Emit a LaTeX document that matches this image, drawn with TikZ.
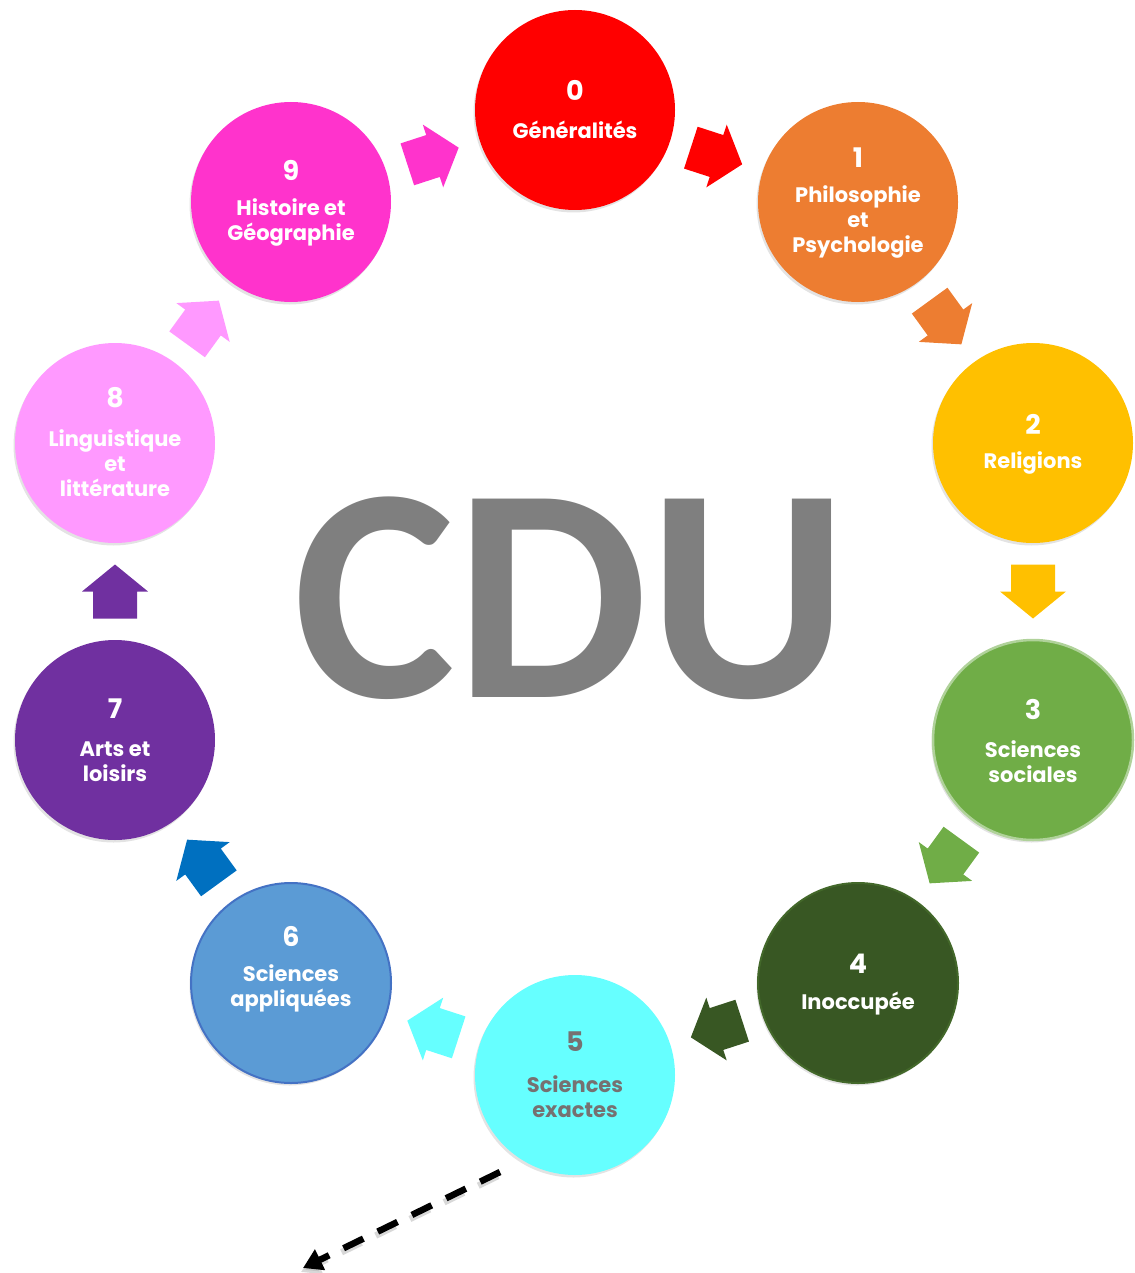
\documentclass[tikz,border=0pt]{standalone}
\usepackage{fontspec}
\setmainfont{Poppins}
\newfontfamily\cdufont{Carlito}
\usetikzlibrary{calc,shadows,arrows.meta}
\definecolor{c0}{HTML}{FF0000}
\definecolor{c1}{HTML}{ED7D31}
\definecolor{c2}{HTML}{FFC000}
\definecolor{c3}{HTML}{70AD47}
\definecolor{c4}{HTML}{385723}
\definecolor{c5}{HTML}{66FFFF}
\definecolor{c6}{HTML}{5B9BD5}
\definecolor{c7}{HTML}{7030A0}
\definecolor{c8}{HTML}{FF99FF}
\definecolor{c9}{HTML}{FF33CC}
\definecolor{a6}{HTML}{0070C0}
\definecolor{b6}{HTML}{4472C4}
\definecolor{cdugray}{HTML}{7F7F7F}
\definecolor{txt5}{HTML}{767171}
\tikzset{
  circ/.style={circle, minimum size=200pt, inner sep=0pt, draw=none,
    drop shadow={shadow xshift=-1.5pt, shadow yshift=-2.5pt, opacity=0.22}},
  num/.style={text=white, font=\bfseries\fontsize{27}{27}\selectfont, inner sep=0pt},
  lab/.style={text=white, font=\bfseries\fontsize{21}{25}\selectfont, align=center, inner sep=0pt},
  barrow/.pic={\path[pic actions] (-27,-22) -- (0,-22) -- (0,-33) -- (27,0) -- (0,33) -- (0,22) -- (-27,22) -- cycle;},
  ashadow/.style={drop shadow={shadow xshift=-1.5pt, shadow yshift=-2pt, opacity=0.2}},
  dasharr/.style={line width=6.5pt, dash pattern=on 22pt off 16pt,
    -{Triangle[length=19pt,width=22pt]}}
}
\begin{document}
\begin{tikzpicture}[x=1pt,y=-1pt]
\useasboundingbox (0,0) rectangle (1134,1273);
% circles
\node[circ, fill=c0] (n0) at (575,110) {};
\node[circ, fill=c1] (n1) at (858,202) {};
\node[circ, fill=c2] (n2) at (1033,443) {};
\node[circ, fill=c3, draw=c3!55!white, line width=2.5pt] (n3) at (1033,740) {};
\node[circ, fill=c4, draw=c4!80!c3, line width=2pt] (n4) at (858,983) {};
\node[circ, fill=c5] (n5) at (575,1075) {};
\node[circ, fill=c6, draw=b6, line width=2pt] (n6) at (291,983) {};
\node[circ, fill=c7] (n7) at (115,740) {};
\node[circ, fill=c8] (n8) at (115,443) {};
\node[circ, fill=c9] (n9) at (291,202) {};
% texts
\node[num] (t0n) at (575,90) {0};
\node[lab] (t0l) at (575,130) {Généralités};
\node[num] (t1n) at (858,158) {1};
\node[lab] (t1l) at (858,222) {Philosophie\\et\\Psychologie};
\node[num] (t2n) at (1033,424) {2};
\node[lab] (t2l) at (1033,463) {Religions};
\node[num] (t3n) at (1033,709) {3};
\node[lab] (t3l) at (1033,762) {Sciences\\sociales};
\node[num] (t4n) at (858,964) {4};
\node[lab] (t4l) at (858,1004) {Inoccupée};
\node[num, text=txt5] (t5n) at (575,1042) {5};
\node[lab, text=txt5] (t5l) at (575,1097) {Sciences\\exactes};
\node[num] (t6n) at (291,936) {6};
\node[lab] (t6l) at (291,988) {Sciences\\appliquées};
\node[num] (t7n) at (115,709) {7};
\node[lab] (t7l) at (115,762) {Arts et\\loisirs};
\node[num] (t8n) at (115,398) {8};
\node[lab] (t8l) at (115,463) {Linguistique\\et\\littérature};
\node[num] (t9n) at (291,170) {9};
\node[lab] (t9l) at (291,222) {Histoire et\\Géographie};
% block arrows
\pic[rotate=-18, fill=c0, ashadow] at ($(n0)!0.5!(n1)$) {barrow};
\pic[rotate=-54, fill=c1, ashadow] at ($(n1)!0.5!(n2)$) {barrow};
\pic[rotate=-90, fill=c2, ashadow] at ($(n2)!0.5!(n3)$) {barrow};
\pic[rotate=-126, fill=c3, ashadow] at ($(n3)!0.5!(n4)$) {barrow};
\pic[rotate=-162, fill=c4, ashadow] at ($(n4)!0.5!(n5)$) {barrow};
\pic[rotate=162, fill=c5, ashadow] at ($(n5)!0.5!(n6)$) {barrow};
\pic[rotate=126, fill=a6, ashadow] at ($(n6)!0.5!(n7)$) {barrow};
\pic[rotate=90, fill=c7, ashadow] at ($(n7)!0.5!(n8)$) {barrow};
\pic[rotate=54, fill=c8, ashadow] at ($(n8)!0.5!(n9)$) {barrow};
\pic[rotate=18, fill=c9, ashadow] at ($(n9)!0.5!(n0)$) {barrow};
% CDU
\node[text=cdugray, font=\cdufont\bfseries\fontsize{306}{306}\selectfont, inner sep=0pt, anchor=base] (cdu) at (571,697) {CDU};
% dashed arrow
\coordinate (dstart) at (500,1172);
\coordinate (dend) at (303,1268);
\draw[dasharr, black!30, opacity=0.5, transform canvas={shift={(-2pt,-4pt)}}] (dstart) -- (dend);
\draw[dasharr] (dstart) -- (dend);
\end{tikzpicture}
\end{document}
